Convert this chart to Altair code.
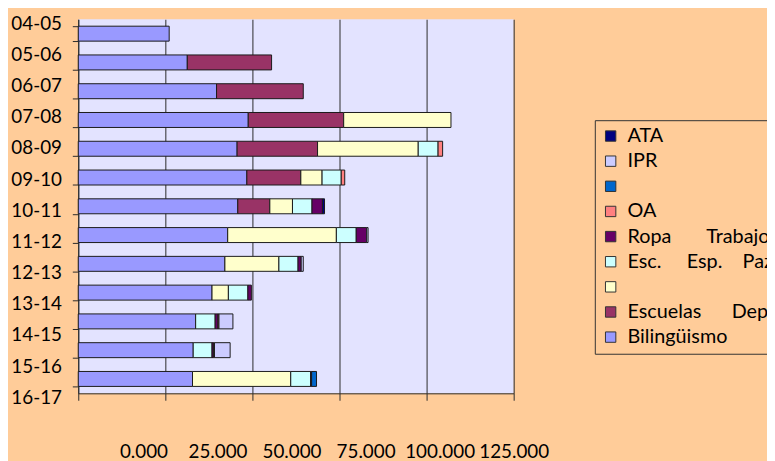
import json
import altair as alt
import pandas as pd

# ---------------- data ----------------
periodos = ["04-05", "05-06", "06-07", "07-08", "08-09", "09-10", "10-11",
            "11-12", "12-13", "13-14", "14-15", "15-16", "16-17"]

# stacking order (left to right) and Excel-like palette
series = ["Bilingüismo", "Escuelas Dep.", "Serie 3", "Esc. Esp. Paz",
          "Ropa Trabajo", "OA", "Serie 7", "IPR", "ATA"]
colores = ["#9999FF", "#993366", "#FFFFCC", "#CCFFFF",
           "#660066", "#FF8080", "#0066CC", "#CCCCFF", "#000080"]

bilinguismo = [26.1, 31.3, 39.7, 48.8, 45.6, 48.4, 45.8, 42.9, 42.1, 38.4, 33.7, 33.0, 32.8]
escuelas_dep = [0, 24.2, 24.9, 27.4, 23.1, 15.5, 9.2, 0, 0, 0, 0, 0, 0]
serie_3 = [0, 0, 0, 30.8, 28.9, 6.1, 6.5, 31.2, 15.5, 4.7, 0, 0, 28.2]
esc_esp_paz = [0, 0, 0, 0, 5.7, 5.5, 5.6, 5.7, 5.5, 5.6, 5.6, 5.4, 5.7]
ropa_trabajo = [0, 0, 0, 0, 0, 0, 3.0, 3.0, 0.9, 1.0, 0.8, 0.4, 0.3]
oa = [0, 0, 0, 0, 1.3, 1.0, 0, 0, 0, 0, 0.3, 0.3, 0]
serie_7 = [0, 0, 0, 0, 0, 0, 0, 0, 0, 0, 0, 0, 1.4]
ipr = [0, 0, 0, 0, 0, 0, 0, 0.4, 0.6, 0, 4.0, 4.5, 0]
ata = [0, 0, 0, 0, 0, 0, 0.6, 0, 0, 0, 0, 0, 0]

valores = [bilinguismo, escuelas_dep, serie_3, esc_esp_paz, ropa_trabajo,
           oa, serie_7, ipr, ata]

x_ticks = [0, 25, 50, 75, 100, 125]

NB = "\u00a0"
legend_text = {
    "ATA": "ATA",
    "IPR": "IPR",
    "Serie 7": "",
    "OA": "OA",
    "Ropa Trabajo": "Ropa" + NB * 7 + "Trabajo",
    "Esc. Esp. Paz": "Esc." + NB * 5 + "Esp." + NB * 4 + "Paz",
    "Serie 3": "",
    "Escuelas Dep.": "Escuelas" + NB * 6 + "Dep.",
    "Bilingüismo": "Bilingüismo",
}

# ---------------- table ----------------
rows = []
for i, (s, vals) in enumerate(zip(series, valores)):
    for p, v in zip(periodos, vals):
        if v > 0:
            rows.append({"periodo": p, "serie": s, "valor": v, "orden": i})
df = pd.DataFrame(rows)

legend_order = list(reversed(series))
legend_colors = list(reversed(colores))

FONT = "Lato"
DARK = "#2a2a2a"

bars = alt.Chart(df).mark_bar(stroke="#1a1a1a", strokeWidth=1).encode(
    x=alt.X("valor:Q", stack="zero",
            scale=alt.Scale(domain=[0, 125], nice=False, zero=True),
            axis=alt.Axis(values=x_ticks, labels=False, grid=True, gridColor=DARK,
                          gridWidth=1, tickSize=7, tickColor=DARK, domainColor=DARK,
                          title=None, orient="bottom")),
    y=alt.Y("periodo:N", sort=periodos,
            scale=alt.Scale(paddingInner=0.48, paddingOuter=0.24),
            axis=alt.Axis(labels=False, ticks=True, tickBand="extent", tickSize=6,
                          tickColor=DARK, domainColor=DARK, title=None, grid=False,
                          orient="left")),
    color=alt.Color("serie:N",
                    scale=alt.Scale(domain=legend_order, range=legend_colors),
                    legend=alt.Legend(
                        title=None, orient="none", legendX=522, legendY=102,
                        symbolType="square", symbolSize=110,
                        symbolStrokeColor="#333333", symbolStrokeWidth=1,
                        labelFont=FONT, labelFontSize=20, labelColor="black",
                        labelLimit=1000, labelOffset=7, strokeColor="#333333",
                        padding=6, rowPadding=5.4, symbolOffset=0,
                        labelExpr=json.dumps(legend_text) + "[datum.label]")),
    order=alt.Order("orden:Q", sort="ascending"),
)

ylab = alt.Chart(pd.DataFrame({"periodo": periodos})).mark_point(opacity=0).encode(
    y=alt.Y("periodo:N", sort=periodos,
            scale=alt.Scale(type="point", padding=0),
            axis=alt.Axis(title=None, ticks=False, tickSize=0, domain=False,
                          labelPadding=17, labelOffset=4, labelFont=FONT,
                          labelFontSize=19, labelColor="black", orient="left",
                          labelOverlap=False, grid=False)),
    x=alt.value(0),
)

xlab = alt.Chart(pd.DataFrame({"v": x_ticks})).mark_point(opacity=0).encode(
    x=alt.X("v:Q", scale=alt.Scale(domain=[-22, 125], nice=False, zero=False),
            axis=alt.Axis(values=x_ticks, format=".3f", ticks=False, tickSize=0,
                          domain=False, grid=False, labelPadding=50,
                          labelFlush=False, labelOverlap=False, labelBound=False,
                          labelFont=FONT, labelFontSize=19,
                          labelColor="black", orient="bottom", title=None)),
    y=alt.value(0),
)

chart = alt.layer(bars, ylab, xlab).resolve_scale(
    x="independent", y="independent"
).properties(
    width=440, height=378,
    padding={"left": 71, "top": 9, "right": 256, "bottom": 66},
    autosize="none",
    background="#FFCC99",
).configure_view(fill="#E3E3FF", strokeWidth=0)

chart.save("out.html", embed_options={"renderer": "svg", "actions": False})
